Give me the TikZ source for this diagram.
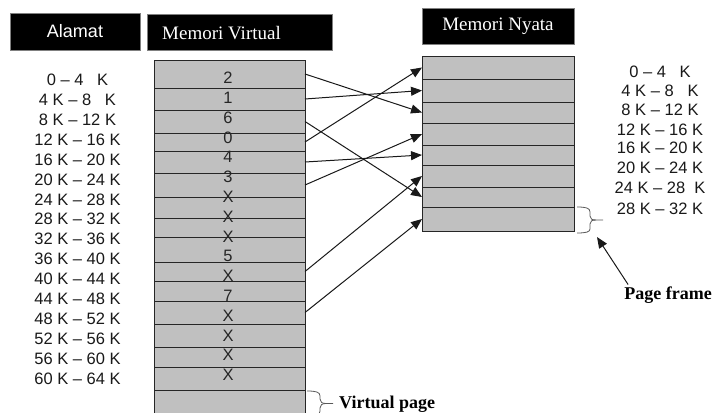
\documentclass[tikz,border=0pt]{standalone}
\usepackage{fontspec}
\setmainfont{Liberation Serif}
\newfontfamily\arialf[Ligatures=TeX]{Liberation Sans}
\usetikzlibrary{arrows.meta}
\definecolor{cellgray}{HTML}{C0C0C0}
\begin{document}
\begin{tikzpicture}[x=1pt,y=-1pt,
  vcell/.style={draw=black!85,line width=0.9pt,fill=cellgray,minimum width=151pt,inner sep=0pt,outer sep=0pt},
  pcell/.style={draw=black!85,line width=0.9pt,fill=cellgray,minimum width=152pt,inner sep=0pt,outer sep=0pt},
  hdr/.style={fill=black,draw=gray,line width=0.6pt,inner sep=0pt,outer sep=0pt,text=white},
  lbl/.style={font=\arialf\fontsize{16.5}{16.5}\selectfont,inner sep=0pt,text=black!90},
  dig/.style={font=\arialf\fontsize{16.5}{16.5}\selectfont,inner sep=0pt,text=black!85},
  bold/.style={font=\fontsize{18}{18}\selectfont\bfseries,inner sep=0pt},
  arr/.style={line width=1pt,draw=black!90,-{Triangle[length=11pt,width=9pt]}},
  brc/.style={line width=0.8pt,draw=gray!70!black}]
\useasboundingbox (0,0) rectangle (714,412);
% headers
\node[hdr,minimum width=130pt,minimum height=37pt,font=\arialf\fontsize{18}{18}\selectfont] (hA) at (75,31.5) {Alamat};
\node[hdr,minimum width=185pt,minimum height=36pt] (hV) at (239.5,32) {};
\node[inner sep=0pt,text=white,font=\fontsize{19}{19}\selectfont,anchor=west] (tV) at (162,33) {Memori Virtual};
\node[hdr,minimum width=152pt,minimum height=36pt,font=\fontsize{19}{19}\selectfont] (hN) at (498,26) {Memori Nyata};
% virtual memory cells
\foreach \t/\b [count=\i] in {60/88,88/110,110/133,133/151,151/173,173/197,197/218,218/237,237/262,262/281,281/301,301/324,324/347,347/367,367/390,390/416}
  \node[vcell,minimum height={(\b-\t)*1pt}] (v\i) at (229.5,{(\t+\b)/2}) {};
% physical memory cells
\foreach \t/\b [count=\i] in {56/79,79/102,102/123,123/145,145/165,165/187,187/207,207/231}
  \node[pcell,minimum height={(\b-\t)*1pt}] (p\i) at (498,{(\t+\b)/2}) {};
% digits
\foreach \s [count=\i] in {2,1,6,0,4,3,X,X,X,5,X,7,X,X,X,X}
  \node[dig] (d\i) at (228,{78+19.8*(\i-1)}) {\s};
% left labels
\foreach \s [count=\i] in {{0 – 4\ \ \ K},{4 K – 8\ \ \ K},{8 K – 12 K},{12 K – 16 K},{16 K – 20 K},{20 K – 24 K},{24 K – 28 K},{28 K – 32 K},{32 K – 36 K},{36 K – 40 K},{40 K – 44 K},{44 K – 48 K},{48 K – 52 K},{52 K – 56 K},{56 K – 60 K},{60 K – 64 K}}
  \node[lbl] (a\i) at (77.5,{80+19.9*(\i-1)}) {\s};
% right labels
\foreach \s/\y [count=\i] in {{0 – 4\ \ \ K}/72,{4 K – 8\ \ \ K}/91,{8 K – 12 K}/110,{12 K – 16 K}/130,{16 K – 20 K}/148,{20 K – 24 K}/168,{24 K – 28\ \ K}/188,{28 K – 32 K}/209}
  \node[lbl] (r\i) at (660,\y) {\s};
% mapping arrows
\draw[arr] (v1.east) -- (p3.west);
\draw[arr] (v2.east) -- (p2.west);
\draw[arr] (v3.east) -- (p7.west);
\draw[arr] (v4.east) -- (p1.west);
\draw[arr] (v5.east) -- (p5.west);
\draw[arr] (v6.east) -- (p4.west);
\draw[arr] (v10.east) -- (p6.west);
\draw[arr] (v12.east) -- (p8.west);
% page frame brace
\draw[brc] (577,207) .. controls (586,207) and (590,208) .. (590,212) -- (590,216)
  .. controls (590,219) and (592,220) .. (596,220) -- (603,220);
\draw[brc] (596,220) .. controls (592,220) and (590,221) .. (590,224) -- (590,229)
  .. controls (590,232) and (586,233) .. (577,233);
\node[bold,anchor=center] (pf) at (668,295) {Page frame};
\coordinate (pfTip) at (597,237);
\draw[arr] ([xshift=4pt,yshift=2pt]pf.north west) -- (pfTip);
% virtual page brace
\draw[brc] (307,391) .. controls (316,391) and (320,392) .. (320,396) -- (320,399)
  .. controls (320,402) and (322,403.5) .. (326,403.5) -- (333,403.5);
\draw[brc] (326,403.5) .. controls (322,403.5) and (320,405) .. (320,408) -- (320,411)
  .. controls (320,415) and (316,416) .. (307,416);
\node[bold,anchor=west] (vp) at (339,404) {Virtual page};
\end{tikzpicture}
\end{document}
